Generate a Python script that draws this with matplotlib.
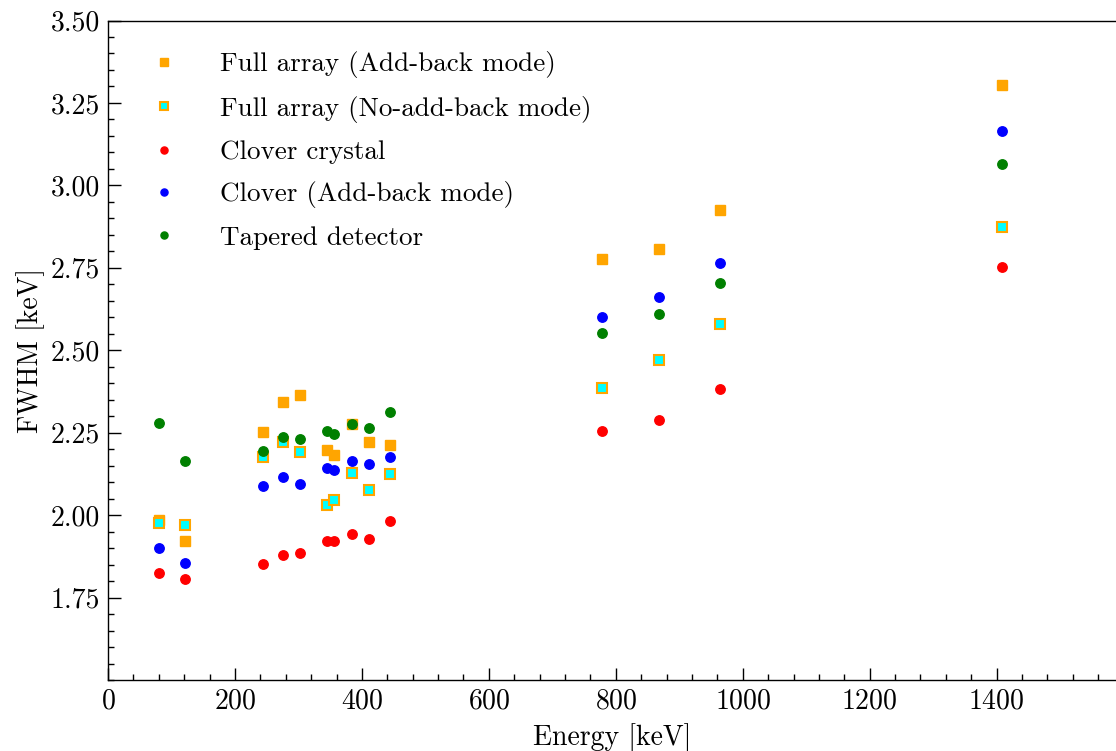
import matplotlib
matplotlib.use("Agg")
import matplotlib.pyplot as plt
from matplotlib.ticker import MultipleLocator, FormatStrFormatter

plt.rcParams["font.family"] = ["cmr10", "DejaVu Serif"]
plt.rcParams["axes.formatter.use_mathtext"] = True
plt.rcParams["mathtext.fontset"] = "cm"

# Gamma-ray energies (keV)
energy = [81.0, 121.8, 244.7, 276.4, 302.9, 344.3, 356.0, 383.9, 411.1, 443.9,
          778.9, 867.4, 964.1, 1408.0]

# FWHM values (keV)
full_addback = [1.985, 1.923, 2.253, 2.342, 2.365, 2.199, 2.181, 2.276, 2.222, 2.213,
                2.777, 2.806, 2.924, 3.305]
full_noaddback = [1.977, 1.971, 2.175, 2.221, 2.192, 2.032, 2.046, 2.127, 2.077, 2.125,
                  2.386, 2.469, 2.580, 2.873]
clover_crystal = [1.826, 1.805, 1.853, 1.879, 1.886, 1.921, 1.921, 1.944, 1.929, 1.982,
                  2.254, 2.289, 2.383, 2.753]
clover_addback = [1.900, 1.855, 2.087, 2.116, 2.095, 2.144, 2.136, 2.164, 2.155, 2.176,
                  2.601, 2.660, 2.766, 3.165]
tapered = [2.280, 2.164, 2.195, 2.237, 2.231, 2.256, 2.247, 2.277, 2.263, 2.312,
           2.553, 2.609, 2.703, 3.065]

labels = ["Full array (Add-back mode)", "Full array (No-add-back mode)",
          "Clover crystal", "Clover (Add-back mode)", "Tapered detector"]

W, H = 1116, 751
fig = plt.figure(figsize=(W / 100, H / 100), dpi=100)
ax = fig.add_axes([108 / W, 71 / H, 1008 / W, 659.5 / H])

ms = 6.8
ax.plot(energy, full_addback, "s", color="orange", ms=ms, mec="orange", label=labels[0])
ax.plot(energy, full_noaddback, "s", mfc="cyan", mec="orange", mew=1.5, ms=ms, label=labels[1])
ax.plot(energy, clover_crystal, "o", color="red", ms=ms, label=labels[2])
ax.plot(energy, clover_addback, "o", color="blue", ms=ms, label=labels[3])
ax.plot(energy, tapered, "o", color="green", ms=ms, label=labels[4])

ax.set_xlim(0, 1588)
ax.set_ylim(1.5, 3.5)
ax.xaxis.set_major_locator(MultipleLocator(200))
ax.xaxis.set_minor_locator(MultipleLocator(40))
ax.yaxis.set_minor_locator(MultipleLocator(0.05))
ax.yaxis.set_major_formatter(FormatStrFormatter("%.2f"))
ax.set_yticks([1.75, 2.0, 2.25, 2.5, 2.75, 3.0, 3.25, 3.5])

ax.tick_params(which="both", direction="in", top=False, right=False, labelsize=20, width=1.0)
ax.tick_params(which="major", length=9, pad=6)
ax.tick_params(which="minor", length=4.5)
for s in ax.spines.values():
    s.set_linewidth(1.0)
ax.spines["right"].set_visible(False)

ax.set_xlabel("Energy [keV]", fontsize=20, labelpad=6)
ax.set_ylabel("FWHM [keV]", fontsize=20, labelpad=4)

leg = ax.legend(loc="upper left", bbox_to_anchor=(0.0045, 0.99), frameon=False, fontsize=19.5,
                markerscale=0.75, labelspacing=0.64, handletextpad=1.07, handlelength=2.0)

fig.savefig("out.png", dpi=100)
